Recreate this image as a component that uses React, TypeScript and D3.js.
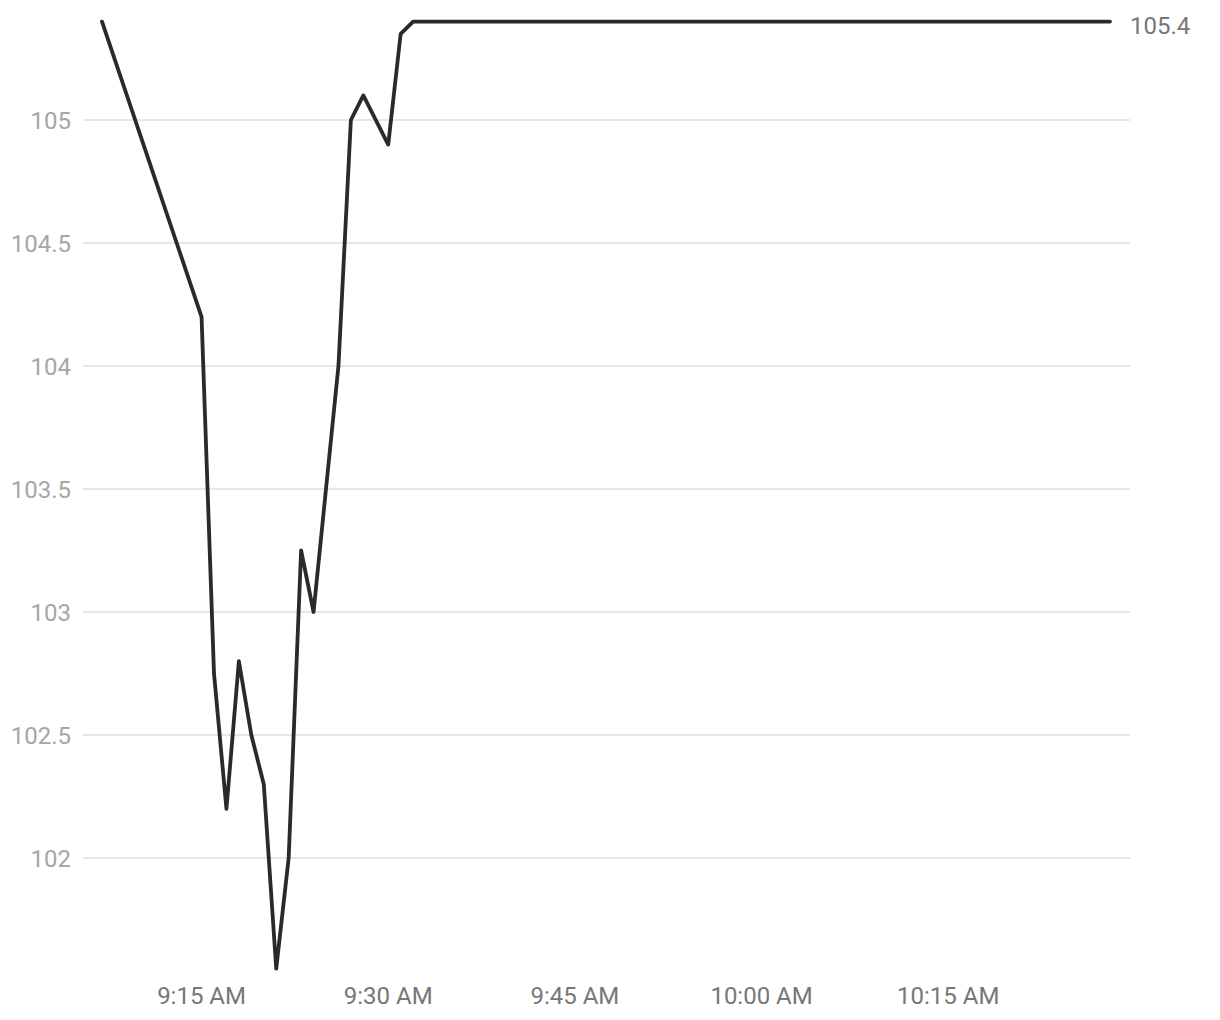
import * as d3 from "d3";
import { useEffect, useRef } from "react";

// minute-level quotes (only the points where the line changes direction)
const times = [
  "09:07", "09:15", "09:16", "09:17", "09:18", "09:19", "09:20", "09:21", "09:22",
  "09:23", "09:24", "09:26", "09:27", "09:28", "09:30", "09:31", "09:32", "10:28",
];
const prices = [
  105.4, 104.2, 102.75, 102.2, 102.8, 102.5, 102.3, 101.55, 102.0,
  103.25, 103.0, 104.0, 105.0, 105.1, 104.9, 105.35, 105.4, 105.4,
];
const yTicks = [102, 102.5, 103, 103.5, 104, 104.5, 105];
const xTicks = ["09:15", "09:30", "09:45", "10:00", "10:15"];

const parseTime = (s: string) => {
  const [h, m] = s.split(":").map(Number);
  return new Date(2024, 0, 2, h, m);
};

export default function App() {
  const ref = useRef<SVGSVGElement | null>(null);

  useEffect(() => {
    if (!ref.current) return;

    const data = times.map((t, i) => ({ date: parseTime(t), value: prices[i] }));

    const x = d3
      .scaleTime()
      .domain(d3.extent(data, (d) => d.date) as [Date, Date])
      .range([102, 1110]);
    const y = d3.scaleLinear().domain([102, 105]).range([858, 120]);

    const gridLeft = 83;
    const gridRight = 1130;
    const font = "Roboto, 'Noto Sans', sans-serif";

    const svg = d3.select(ref.current);
    svg.selectAll("*").remove();

    svg
      .append("g")
      .selectAll("line")
      .data(yTicks)
      .join("line")
      .attr("x1", gridLeft)
      .attr("x2", gridRight)
      .attr("y1", (d) => y(d))
      .attr("y2", (d) => y(d))
      .attr("stroke", "#e6e6e6")
      .attr("stroke-width", 2);

    svg
      .append("g")
      .selectAll("text")
      .data(yTicks)
      .join("text")
      .attr("x", 71)
      .attr("y", (d) => y(d))
      .attr("dy", "0.36em")
      .attr("text-anchor", "end")
      .style("font-family", font)
      .style("font-size", "24px")
      .style("fill", "#a6a6a6")
      .text((d) => d3.format("")(d));

    svg
      .append("g")
      .selectAll("text")
      .data(xTicks.map(parseTime))
      .join("text")
      .attr("x", (d) => x(d))
      .attr("y", 1004)
      .attr("text-anchor", "middle")
      .style("font-family", font)
      .style("font-size", "24px")
      .style("fill", "#777777")
      .text((d) => d3.timeFormat("%-I:%M %p")(d));

    const line = d3
      .line<(typeof data)[0]>()
      .x((d) => x(d.date))
      .y((d) => y(d.value));

    svg
      .append("path")
      .datum(data)
      .attr("fill", "none")
      .attr("stroke", "#2d2829")
      .attr("stroke-width", 3.8)
      .attr("stroke-linejoin", "round")
      .attr("stroke-linecap", "round")
      .attr("d", line);

    const last = data[data.length - 1];
    svg
      .append("text")
      .attr("x", 1130)
      .attr("y", y(last.value) + 4)
      .attr("dy", "0.36em")
      .style("font-family", font)
      .style("font-size", "24px")
      .style("fill", "#777777")
      .text(d3.format(".1f")(last.value));
  }, []);

  return (
    <div style={{ position: "absolute", left: 0, top: 0 }}>
      <svg ref={ref} width={1220} height={1020} style={{ display: "block" }} />
    </div>
  );
}
